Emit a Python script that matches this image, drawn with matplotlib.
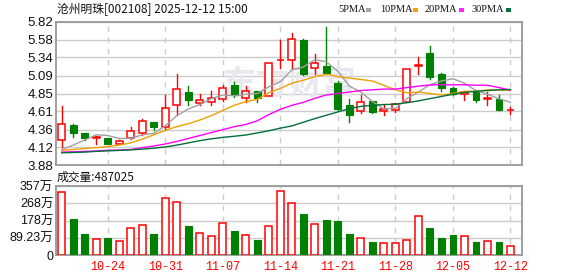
import matplotlib
matplotlib.use("Agg")
import matplotlib.pyplot as plt
from matplotlib.patches import Rectangle

# daily candles 2025-10-20 .. 2025-12-12
opens = [4.22, 4.42, 4.31, 4.25, 4.24, 4.17, 4.24, 4.31, 4.46, 4.39,
         4.69, 4.87, 4.72, 4.74, 4.78, 4.96, 4.79, 4.88, 4.82, 5.30,
         5.31, 5.57, 5.19, 5.22, 4.99, 4.70, 4.61, 4.75, 4.61, 4.62,
         4.73, 5.22, 5.40, 5.12, 4.93, 4.84, 4.88, 4.78, 4.78, 4.62]
closes = [4.43, 4.32, 4.24, 4.26, 4.17, 4.20, 4.34, 4.48, 4.39, 4.66,
          4.91, 4.76, 4.76, 4.79, 4.93, 4.83, 4.88, 4.79, 5.26, 5.31,
          5.59, 5.12, 5.27, 5.13, 4.64, 4.56, 4.74, 4.60, 4.64, 4.71,
          5.18, 5.23, 5.08, 4.92, 4.84, 4.87, 4.76, 4.79, 4.62, 4.63]
highs = [4.68, 4.43, 4.32, 4.27, 4.25, 4.22, 4.39, 4.50, 4.46, 4.83,
         5.11, 4.95, 4.84, 4.88, 4.96, 5.00, 4.95, 4.89, 5.26, 5.58,
         5.67, 5.59, 5.39, 5.75, 5.02, 4.78, 4.83, 4.75, 4.69, 4.72,
         5.18, 5.35, 5.49, 5.13, 4.94, 4.87, 4.89, 4.87, 4.83, 4.67]
lows = [4.13, 4.26, 4.22, 4.17, 4.16, 4.16, 4.23, 4.29, 4.35, 4.37,
        4.56, 4.70, 4.69, 4.69, 4.75, 4.80, 4.74, 4.73, 4.81, 5.19,
        5.19, 5.10, 5.12, 5.12, 4.63, 4.47, 4.58, 4.59, 4.56, 4.60,
        4.73, 5.12, 5.05, 4.88, 4.83, 4.76, 4.74, 4.70, 4.62, 4.57]
# volume in 万
volumes = [324, 186, 109, 81, 88, 72, 138, 153, 109, 293,
           272, 150, 112, 97, 164, 124, 102, 78, 148, 329,
           267, 212, 159, 181, 176, 109, 86, 67, 60, 60,
           76, 200, 140, 88, 103, 97, 67, 71, 67, 48.7]

ma5 = [4.09, 4.15, 4.22, 4.29, 4.28, 4.24, 4.24, 4.29, 4.31, 4.41,
       4.55, 4.64, 4.70, 4.78, 4.83, 4.82, 4.84, 4.85, 4.94, 5.01,
       5.17, 5.21, 5.31, 5.28, 5.15, 4.95, 4.87, 4.74, 4.64, 4.65,
       4.78, 4.87, 4.97, 5.02, 5.05, 4.99, 4.89, 4.84, 4.78, 4.73]
ma10 = [4.08, 4.09, 4.105, 4.115, 4.13, 4.15, 4.18, 4.23, 4.29, 4.35,
        4.40, 4.44, 4.49, 4.55, 4.62, 4.69, 4.74, 4.77, 4.86, 4.92,
        4.99, 5.03, 5.08, 5.11, 5.08, 5.06, 5.04, 5.02, 4.96, 4.90,
        4.86, 4.87, 4.85, 4.83, 4.85, 4.88, 4.88, 4.90, 4.90, 4.89]
ma20 = [4.055, 4.06, 4.065, 4.07, 4.08, 4.083, 4.09, 4.115, 4.138, 4.165,
        4.20, 4.24, 4.28, 4.32, 4.36, 4.40, 4.43, 4.48, 4.565, 4.635,
        4.69, 4.73, 4.785, 4.83, 4.85, 4.87, 4.89, 4.90, 4.91, 4.91,
        4.93, 4.95, 4.965, 4.97, 4.967, 4.969, 4.962, 4.962, 4.93, 4.896]
ma30 = [4.045, 4.05, 4.055, 4.065, 4.072, 4.078, 4.085, 4.095, 4.108, 4.125,
        4.15, 4.18, 4.21, 4.235, 4.255, 4.27, 4.287, 4.315, 4.345, 4.38,
        4.41, 4.46, 4.51, 4.555, 4.60, 4.645, 4.675, 4.69, 4.70, 4.705,
        4.725, 4.75, 4.78, 4.81, 4.84, 4.865, 4.88, 4.89, 4.90, 4.905]

price_ticks = [3.88, 4.12, 4.36, 4.61, 4.85, 5.09, 5.34, 5.58, 5.82]
vol_ticks = [0, 89.23, 178.46, 267.69, 356.92]
vol_labels = ["0", "89.23万", "178万", "268万", "357万"]
date_pos = [4, 9, 14, 19, 24, 29, 34, 39]
date_labels = ["10-24", "10-31", "11-07", "11-14", "11-21", "11-28", "12-05", "12-12"]

RED = "#ff0000"
GREEN = "#008000"
CJK = ["Noto Sans CJK SC", "DejaVu Sans"]
NUM = ["Liberation Sans", "Noto Sans CJK SC"]

fig = plt.figure(figsize=(5.78, 2.76), dpi=100)
ax = fig.add_axes([56 / 578, 1 - 165 / 276, 466 / 578, 143 / 276])
axv = fig.add_axes([56 / 578, 1 - 255 / 276, 466 / 578, 69 / 276])

for a in (ax, axv):
    for s in a.spines.values():
        s.set_color("#999999")
        s.set_linewidth(1.3)
    a.set_xlim(-0.5, 40.0)
    a.set_xticks(date_pos)
    a.grid(axis="x", color="#cccccc", lw=1, ls=(0, (4, 4)))
    a.grid(axis="y", color="#cccccc", lw=1, ls="-")
    a.set_axisbelow(True)
    a.tick_params(length=0, pad=2)

w = 0.6
for i in range(len(opens)):
    o, c, h, l = opens[i], closes[i], highs[i], lows[i]
    if c >= o:
        ax.plot([i, i], [l, o], color=RED, lw=1, zorder=3)
        ax.plot([i, i], [c, h], color=RED, lw=1, zorder=3)
        ax.add_patch(Rectangle((i - w / 2, o), w, max(c - o, 0.004), facecolor="white",
                               edgecolor=RED, lw=1.1, zorder=4))
        axv.add_patch(Rectangle((i - w / 2, 0), w, volumes[i], facecolor="white",
                                edgecolor=RED, lw=1.1, zorder=3))
    else:
        ax.plot([i, i], [l, h], color=GREEN, lw=1, zorder=3)
        ax.add_patch(Rectangle((i - w / 2, c), w, o - c, facecolor=GREEN,
                               edgecolor=GREEN, lw=0.8, zorder=4))
        axv.add_patch(Rectangle((i - w / 2, 0), w, volumes[i], facecolor=GREEN,
                                edgecolor=GREEN, lw=0.8, zorder=3))

x = list(range(len(opens)))
ax.plot(x, ma5, color="#a0a0a0", lw=1, zorder=5)
ax.plot(x, ma10, color="#f0a000", lw=1, zorder=5)
ax.plot(x, ma20, color="#ff00ff", lw=1, zorder=5)
ax.plot(x, ma30, color="#006f3c", lw=1, zorder=5)

ax.text(0.5, 0.56, "东方财富", transform=ax.transAxes, ha="center", va="center",
        fontsize=24, fontweight="bold", color="#e8e8ee", family=CJK, zorder=1)

ax.set_ylim(3.88, 5.82)
ax.set_yticks(price_ticks)
ax.set_yticklabels([f"{v:.2f}" for v in price_ticks], family=NUM, fontsize=9.5, color="#111111")
ax.set_xticklabels([])

axv.set_ylim(0, 357)
axv.set_yticks(vol_ticks)
axv.set_yticklabels(vol_labels, family=NUM, fontsize=9, color="#111111")
axv.set_xticklabels(date_labels, family="Liberation Mono", fontsize=8.5, color=RED)
axv.tick_params(axis="x", pad=4)

fig.text(57 / 578, 1 - 10 / 276, "沧州明珠[002108] 2025-12-12 15:00", family=CJK,
         fontsize=8.5, va="center", ha="left", color="#111111")
fig.text(57 / 578, 1 - 177 / 276, "成交量:487025", family=CJK,
         fontsize=8.5, va="center", ha="left", color="#111111")

legend = [("5PMA", "#a8a8a8", 338, 366), ("10PMA", "#f5a300", 380, 413),
          ("20PMA", "#ff22ff", 425, 459), ("30PMA", "#00703c", 472, 506)]
for name, col, px, sq in legend:
    fig.text(px / 578, 1 - 10 / 276, name, family="Liberation Serif", fontsize=7.5,
             va="center", ha="left", color="#111111")
    fig.patches.append(Rectangle((sq / 578, 1 - 12 / 276), 5 / 578, 4 / 276,
                                 transform=fig.transFigure, facecolor=col, edgecolor="none"))

fig.savefig("out.png", dpi=100)
